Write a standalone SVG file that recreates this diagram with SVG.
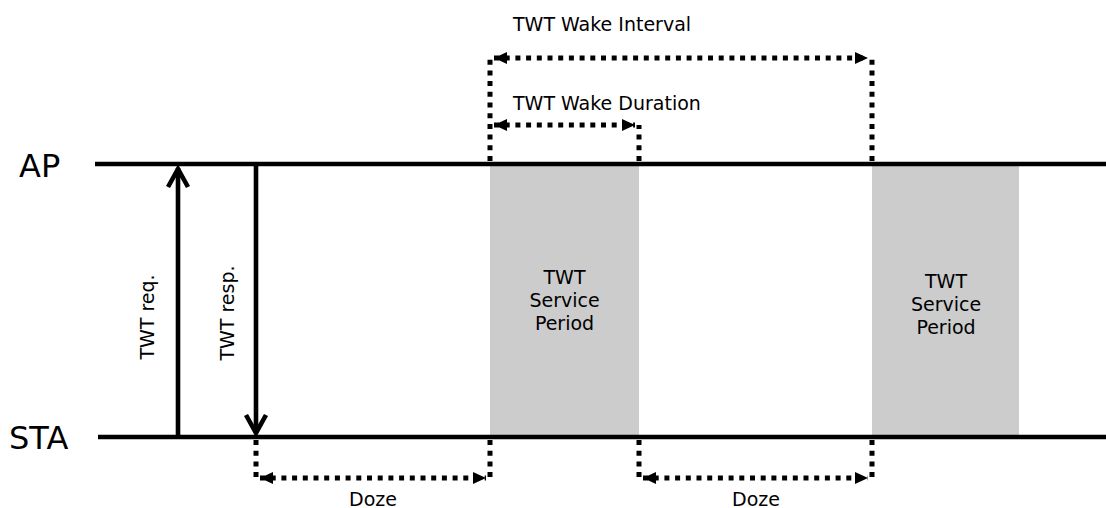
<svg xmlns="http://www.w3.org/2000/svg" width="1106" height="508" viewBox="0 0 1106 508">
<style>
text{font-family:"DejaVu Sans",sans-serif;fill:#000}
.big{font-size:32px}
.lbl{font-size:19px}
.sp{font-size:19px;text-anchor:middle}
.line{stroke:#000;stroke-width:4.6;fill:none}
.dot{stroke:#000;stroke-width:5;fill:none;stroke-dasharray:5 5.7}
.head{stroke:#000;stroke-width:4.6;fill:none;stroke-linecap:butt}
</style>
<defs>
<marker id="tri" viewBox="0 0 13 12" refX="13" refY="6" markerWidth="13" markerHeight="12" orient="auto-start-reverse" markerUnits="userSpaceOnUse">
<path d="M0,0 L13,6 L0,12 z" fill="#000"/>
</marker>
</defs>
<rect width="1106" height="508" fill="#fff"/>
<g id="sp1">
<rect x="490" y="164" width="149" height="273" fill="#cccccc"/>
<text class="sp" x="564.5" y="284">TWT</text>
<text class="sp" x="564.5" y="307">Service</text>
<text class="sp" x="564.5" y="330">Period</text>
</g>
<g id="sp2">
<rect x="872" y="164" width="147" height="273" fill="#cccccc"/>
<text class="sp" x="946" y="288">TWT</text>
<text class="sp" x="946" y="311">Service</text>
<text class="sp" x="946" y="334">Period</text>
</g>
<g id="ap">
<line class="line" x1="95" y1="164" x2="1106" y2="164"/>
<text class="big" x="19" y="177">AP</text>
</g>
<g id="sta">
<line class="line" x1="98" y1="437" x2="1106" y2="437"/>
<text class="big" x="9" y="449">STA</text>
</g>
<g id="connectors">
<g id="twt-req">
<line class="line" x1="178" y1="437" x2="178" y2="168"/>
<polyline class="head" points="168,187 178,169 188,187"/>
<text class="lbl" text-anchor="middle" transform="translate(154,317) rotate(-90)">TWT req.</text>
</g>
<g id="twt-resp">
<line class="line" x1="256" y1="164" x2="256" y2="433"/>
<polyline class="head" points="246,415 256,433 266,415"/>
<text class="lbl" text-anchor="middle" transform="translate(234,313) rotate(-90)">TWT resp.</text>
</g>
<g id="interval">
<polyline class="dot" points="490,161 490,58"/>
<polyline class="dot" points="872,161 872,58"/>
<line class="dot" x1="494" y1="58" x2="868" y2="58" marker-start="url(#tri)" marker-end="url(#tri)"/>
<text class="lbl" x="513" y="31">TWT Wake Interval</text>
</g>
<g id="duration">
<polyline class="dot" points="639,161 639,125"/>
<line class="dot" x1="494" y1="125" x2="635" y2="125" marker-start="url(#tri)" marker-end="url(#tri)"/>
<text class="lbl" x="513" y="110">TWT Wake Duration</text>
</g>
<g id="doze1">
<polyline class="dot" points="256,440 256,478"/>
<polyline class="dot" points="490,440 490,478"/>
<line class="dot" x1="260" y1="478" x2="486" y2="478" marker-start="url(#tri)" marker-end="url(#tri)"/>
<text class="lbl" text-anchor="middle" x="373" y="506">Doze</text>
</g>
<g id="doze2">
<polyline class="dot" points="639,440 639,478"/>
<polyline class="dot" points="872,440 872,478"/>
<line class="dot" x1="643" y1="478" x2="868" y2="478" marker-start="url(#tri)" marker-end="url(#tri)"/>
<text class="lbl" text-anchor="middle" x="756" y="506">Doze</text>
</g>
</g>
</svg>
